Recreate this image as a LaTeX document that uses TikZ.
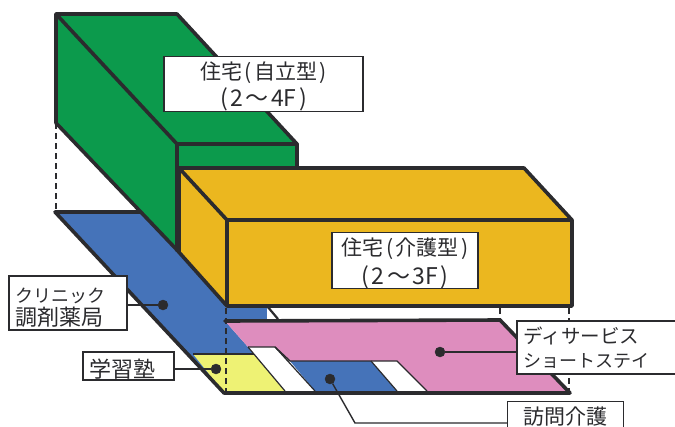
\documentclass[tikz,border=0pt]{standalone}
\usepackage{fontspec}
\setmainfont{Noto Sans CJK JP}
\definecolor{gr}{HTML}{0C9A4C}
\definecolor{gd}{HTML}{EBB71F}
\definecolor{bl}{HTML}{4573B9}
\definecolor{pk}{HTML}{DE8DBE}
\definecolor{yl}{HTML}{EEF274}
\definecolor{ink}{HTML}{2B2B2E}
\newcommand{\fs}[1]{\fontsize{#1}{#1}\selectfont}
\newcommand{\tk}{\hspace{2.5pt}}
\newcommand{\pad}[1]{\rule{0pt}{#1pt}}
\tikzset{
  heavy/.style={draw=ink,line width=3.6pt,line join=round,line cap=round},
  medium/.style={draw=ink,line width=2.2pt,line join=round},
  guide/.style={draw=ink,line width=1.5pt,dashed,dash pattern=on 6pt off 4pt},
  lab/.style={draw=ink,fill=white,line width=1.3pt,inner sep=0pt,align=center,text=ink},
  lead/.style={draw=ink,line width=1.4pt},
  dotm/.style={circle,fill=ink,draw=ink,inner sep=0pt,minimum size=10pt},
}
\begin{document}
\begin{tikzpicture}[x=1pt,y=-1pt]
\useasboundingbox (0,0) rectangle (675,426);
\fill[white] (0,0) rectangle (675,426);
% corner coordinates
\coordinate (gA) at (56,14); \coordinate (gB) at (177,14);
\coordinate (gC) at (297,144); \coordinate (gD) at (177,144);
\coordinate (gE) at (56,123); \coordinate (gF) at (177,250);
\coordinate (gG) at (297,166); \coordinate (gH) at (177,166);
\coordinate (fA) at (55,212); \coordinate (fB) at (140,212);
\coordinate (fC) at (224,393); \coordinate (fD) at (570,393);
\coordinate (yA) at (179,168); \coordinate (yB) at (524,168);
\coordinate (yC) at (572,220); \coordinate (yD) at (227,220);
\coordinate (yE) at (572,306); \coordinate (yF) at (227,306);
\coordinate (yG) at (179,252);
\coordinate (pA) at (225,321); \coordinate (pB) at (500,320);
% floor
\fill[bl] (fA) -- (fB) -- (yF) -- (267,306) -- (278,319) -- (pA) -- (248,347) -- (285,391) -- (fC) -- cycle;
\fill[white] (267,306) rectangle (500,319);
\fill[pk] (pA) -- (pB) -- (fD) -- (427,391) -- (397,361) -- (290,361) -- (275,347) -- (248,347) -- cycle;
\fill[yl] (193,354) -- (254,354) -- (285,391) -- (fC) -- cycle;
\fill[white] (248,347) -- (275,347) -- (315,391) -- (285,391) -- cycle;
\fill[bl] (290,361) -- (371,361) -- (397,391) -- (315,391) -- cycle;
\fill[white] (371,361) -- (397,361) -- (427,391) -- (397,391) -- cycle;
\draw[ink,line width=1.4pt] (193,354) -- (254,354);
\draw[ink,line width=1.4pt] (248,347) -- (275,347) -- (290,361) -- (397,361) -- (427,391);
\draw[ink,line width=1.2pt] (248,347) -- (285,391) (275,347) -- (315,391) (371,361) -- (397,391);
\draw[heavy] (fB) -- (fA) -- (fC) -- (fD) -- (pB) -- (pA);
\draw[medium] (267,306) -- (278,319);
\draw[guide] (gE) -- (56,210);
\draw[guide] (226,308) -- (226,392);
\draw[guide] (500,308) -- (500,320);
\draw[guide] (569,308) -- (569,392);
% green block
\fill[gr] (gA) -- (gB) -- (gC) -- (gG) -- (gH) -- (gF) -- (gE) -- cycle;
\draw[heavy] (gE) -- (gA) -- (gB) -- (gC) -- (gG);
\draw[heavy] (gA) -- (gD) -- (gC);
\draw[heavy] (gD) -- (gF);
\draw[heavy] (gE) -- (gF);
% gold block
\fill[gd] (yA) -- (yB) -- (yC) -- (yE) -- (yF) -- (yG) -- cycle;
\draw[heavy] (yG) -- (yA) -- (yB) -- (yC) -- (yE) -- (yF) -- (yD) -- (yC);
\draw[heavy] (yA) -- (yD);
\draw[heavy] (gF) -- (yF);
% labels
\node[lab,minimum width=199pt,minimum height=54pt] (jiritsu) at (263.5,84) {\pad{23}{\fs{21}住宅\tk(\tk 自立型\tk)}\\[3pt]{\fs{23}(\tk 2\tk〜\tk 4F\tk)}};
\node[lab,minimum width=146pt,minimum height=55pt] (kaigo) at (405,260.5) {\pad{23}{\fs{21}住宅\tk(\tk 介護型\tk)}\\[5pt]{\fs{23}(\tk 2\tk〜\tk 3F\tk)}};
\node[lab,minimum width=118pt,minimum height=54pt,align=left,text width=104pt] (clinic) at (68,303) {\pad{24}{\fs{18}クリニック}\\[3pt]{\fs{22}調剤薬局}};
\node[lab,minimum width=91pt,minimum height=28pt] (juku) at (128.5,366) {\pad{25}\fs{22}学習塾\hspace{12pt}};
\node[lab,minimum width=159pt,minimum height=53pt,align=left,text width=146pt] (day) at (596.5,347.5) {{\fs{19.5}ディサービス}\\[8pt]{\fs{18}ショートステイ}};
\node[lab,minimum width=116pt,minimum height=30pt,anchor=north west] (houmon) at (507,401) {\fs{21}訪問介護};
% leaders
\node[dotm] (d1) at (163,305) {};
\node[dotm] (d2) at (216,369) {};
\node[dotm] (d3) at (440,352) {};
\node[dotm] (d4) at (330,379) {};
\draw[lead] (d1) -- (clinic.east |- d1);
\draw[lead] (d2) -- (juku.east |- d2);
\draw[lead] (d3) -- (day.west |- d3);
\coordinate (bend) at (355,423);
\draw[lead] (d4) -- (bend) -- (houmon.west |- bend);
\end{tikzpicture}
\end{document}
